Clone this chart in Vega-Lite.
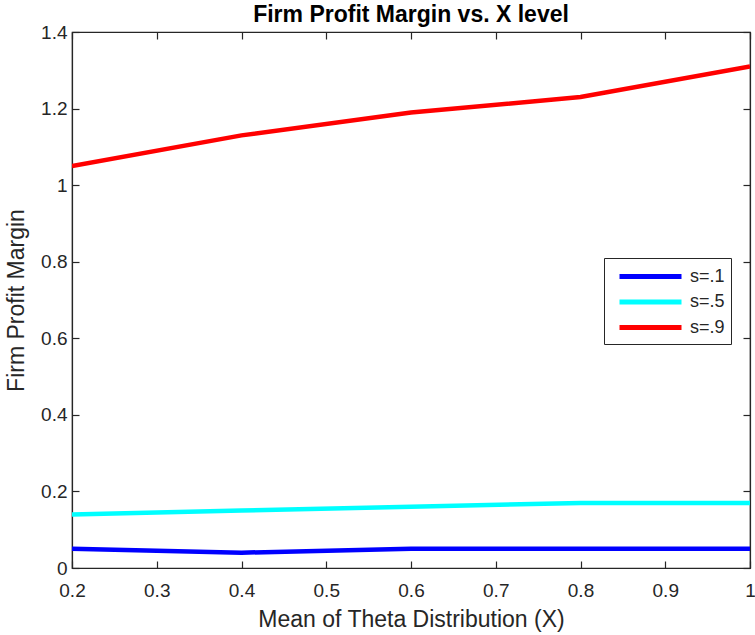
{
  "$schema": "https://vega.github.io/schema/vega-lite/v6.json",
  "autosize": {"type": "none"},
  "padding": {"left": 72, "top": 32, "right": 5, "bottom": 67},
  "width": 678,
  "height": 536,
  "background": "white",
  "title": {"text": "Firm Profit Margin vs. X level", "font": "Liberation Sans", "fontSize": 23, "fontWeight": "bold", "color": "#000000", "offset": -4},
  "config": {
    "view": {"stroke": "#262626", "strokeWidth": 1.2},
    "axis": {"grid": false, "domain": true, "labelFlush": false, "labelOverlap": false, "domainColor": "#262626", "domainWidth": 1.2, "tickColor": "#262626", "tickWidth": 1.2, "tickSize": -7, "labelFont": "Liberation Sans", "labelFontSize": 19, "labelColor": "#262626", "titleFont": "Liberation Sans", "titleFontSize": 23, "titleFontWeight": "normal", "titleColor": "#262626"}
  },
  "data": {"values": [
    {"x": 0.2, "y": 0.05, "s": "s=.1"},
    {"x": 0.4, "y": 0.04, "s": "s=.1"},
    {"x": 0.6, "y": 0.05, "s": "s=.1"},
    {"x": 0.8, "y": 0.05, "s": "s=.1"},
    {"x": 1.0, "y": 0.05, "s": "s=.1"},
    {"x": 0.2, "y": 0.14, "s": "s=.5"},
    {"x": 0.4, "y": 0.15, "s": "s=.5"},
    {"x": 0.6, "y": 0.16, "s": "s=.5"},
    {"x": 0.8, "y": 0.17, "s": "s=.5"},
    {"x": 1.0, "y": 0.17, "s": "s=.5"},
    {"x": 0.2, "y": 1.05, "s": "s=.9"},
    {"x": 0.4, "y": 1.13, "s": "s=.9"},
    {"x": 0.6, "y": 1.19, "s": "s=.9"},
    {"x": 0.8, "y": 1.23, "s": "s=.9"},
    {"x": 1.0, "y": 1.31, "s": "s=.9"}
  ]},
  "layer": [
    {
      "mark": {"type": "line", "strokeWidth": 4.5, "clip": true},
      "encoding": {
        "x": {"field": "x", "type": "quantitative", "scale": {"domain": [0.2, 1], "nice": false, "zero": false},
              "axis": {"title": "Mean of Theta Distribution (X)", "values": [0.2,0.3,0.4,0.5,0.6,0.7,0.8,0.9,1], "labelExpr": "datum.value == 1 ? '1' : format(datum.value, '.1f')", "labelPadding": 20, "titlePadding": 8}},
        "y": {"field": "y", "type": "quantitative", "scale": {"domain": [0, 1.4], "nice": false},
              "axis": {"title": "Firm Profit Margin", "values": [0,0.2,0.4,0.6,0.8,1,1.2,1.4], "labelExpr": "datum.value == 0 ? '0' : datum.value == 1 ? '1' : format(datum.value, '.1f')", "labelPadding": 12, "titlePadding": 12}},
        "color": {"field": "s", "type": "nominal",
                  "scale": {"domain": ["s=.1", "s=.5", "s=.9"], "range": ["#0000ff", "#00ffff", "#ff0000"]},
                  "legend": {"title": null, "orient": "none", "legendX": 532, "legendY": 226, "symbolType": "M-0.3,0H5.9", "symbolStrokeWidth": 5, "symbolSize": 400, "labelFont": "Liberation Sans", "labelFontSize": 18, "labelColor": "#262626", "strokeColor": "#262626", "fillColor": "white", "padding": 6, "rowPadding": 2.5, "labelOffset": 55, "symbolOffset": 0}}
      }
    },
    {
      "mark": {"type": "rule", "opacity": 0},
      "encoding": {
        "x": {"field": "x", "type": "quantitative", "scale": {"domain": [0.2, 1], "nice": false, "zero": false},
              "axis": {"orient": "top", "labels": false, "title": null, "values": [0.2,0.3,0.4,0.5,0.6,0.7,0.8,0.9,1]}},
        "y": {"field": "y", "type": "quantitative", "scale": {"domain": [0, 1.4], "nice": false},
              "axis": {"orient": "right", "labels": false, "title": null, "values": [0,0.2,0.4,0.6,0.8,1,1.2,1.4]}}
      }
    }
  ],
  "resolve": {"axis": {"x": "independent", "y": "independent"}}
}
